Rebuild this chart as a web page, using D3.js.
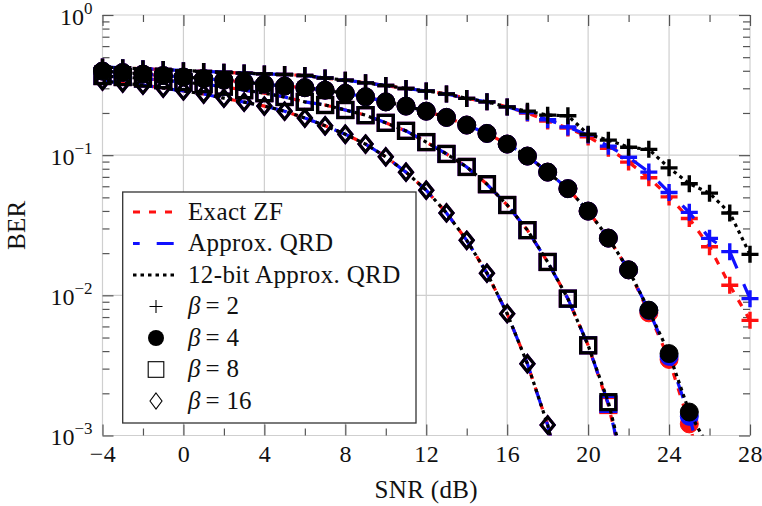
<!DOCTYPE html>
<html>
<head>
<meta charset="utf-8">
<script src="https://cdn.jsdelivr.net/npm/d3@7"></script>
<style>
  html, body { margin: 0; padding: 0; background: #fff; }
  svg { display: block; font-family: "Liberation Serif", "Times New Roman", serif; }
</style>
</head>
<body>
<svg id="chart" width="762" height="506"></svg>
<script>
// SNR grid (dB), one point per dB
const snrDb = [-4,-3,-2,-1,0,1,2,3,4,5,6,7,8,9,10,11,12,13,14,15,16,17,18,19,20,21,22,23,24,25,26,27,28];

// BER, beta = 2
const exactZF_b2   = [0.425,0.420,0.413,0.408,0.401,0.396,0.390,0.385,0.380,0.376,0.370,0.355,0.343,0.328,0.314,0.299,0.287,0.273,0.254,0.240,0.221,0.200,0.175,0.156,0.135,0.112,0.0892,0.0690,0.0504,0.0353,0.0222,0.0118,0.00663];
const approxQRD_b2 = [0.425,0.420,0.413,0.408,0.401,0.396,0.390,0.385,0.380,0.376,0.370,0.355,0.343,0.328,0.314,0.299,0.287,0.273,0.254,0.240,0.221,0.201,0.179,0.159,0.139,0.116,0.0967,0.0757,0.0542,0.0391,0.0255,0.0205,0.00947];
const bit12_b2     = [0.425,0.420,0.413,0.408,0.401,0.396,0.390,0.385,0.380,0.376,0.370,0.355,0.343,0.328,0.314,0.299,0.287,0.273,0.254,0.240,0.221,0.206,0.193,0.191,0.141,0.128,0.114,0.110,0.0812,0.0626,0.0536,0.0387,0.0196];

// BER, beta = 4 (SNR -4 .. 26)
const exactZF_b4   = [0.398,0.389,0.379,0.370,0.361,0.352,0.343,0.332,0.321,0.311,0.303,0.291,0.276,0.261,0.240,0.224,0.206,0.186,0.164,0.143,0.120,0.0985,0.0757,0.0577,0.0399,0.0256,0.0152,0.0075,0.00349,0.00121,0.00035];
const approxQRD_b4 = [0.398,0.389,0.379,0.370,0.361,0.352,0.343,0.332,0.321,0.311,0.303,0.291,0.276,0.261,0.240,0.224,0.206,0.186,0.164,0.143,0.120,0.0985,0.0757,0.0577,0.0399,0.0256,0.0152,0.0078,0.00367,0.00137,0.0004];
const bit12_b4     = [0.398,0.389,0.379,0.370,0.361,0.352,0.343,0.332,0.321,0.311,0.303,0.291,0.276,0.261,0.240,0.224,0.206,0.186,0.164,0.143,0.120,0.0985,0.0757,0.0577,0.0399,0.0256,0.0152,0.00784,0.00384,0.00147,0.0008];

// BER, beta = 8 (SNR -4 .. 22)
const exactZF_b8   = [0.367,0.361,0.352,0.343,0.332,0.321,0.308,0.291,0.277,0.260,0.240,0.228,0.210,0.193,0.170,0.149,0.124,0.102,0.0824,0.0621,0.0441,0.0292,0.0173,0.00947,0.0044,0.00165,0.0004];
const approxQRD_b8 = [0.367,0.361,0.352,0.343,0.332,0.321,0.308,0.291,0.277,0.260,0.240,0.228,0.210,0.193,0.170,0.149,0.124,0.102,0.0824,0.0621,0.0441,0.0292,0.0173,0.00947,0.0044,0.00168,0.0004];
const bit12_b8     = [0.367,0.361,0.352,0.343,0.332,0.321,0.308,0.291,0.277,0.260,0.240,0.228,0.210,0.193,0.170,0.149,0.124,0.102,0.0824,0.0621,0.0441,0.0292,0.0173,0.00947,0.0044,0.00173,0.00045];

// BER, beta = 16 (SNR -4 .. 19)
const exactZF_b16   = [0.338,0.327,0.316,0.301,0.287,0.273,0.255,0.239,0.224,0.206,0.184,0.162,0.141,0.120,0.0973,0.0756,0.0562,0.0387,0.0247,0.0144,0.0074,0.00325,0.00119,0.0003];
const approxQRD_b16 = [0.338,0.327,0.316,0.301,0.287,0.273,0.255,0.239,0.224,0.206,0.184,0.162,0.141,0.120,0.0973,0.0756,0.0562,0.0387,0.0247,0.0144,0.0074,0.00325,0.00119,0.0003];
const bit12_b16     = [0.338,0.327,0.316,0.301,0.287,0.273,0.255,0.239,0.224,0.206,0.184,0.162,0.141,0.120,0.0973,0.0756,0.0562,0.0387,0.0247,0.0144,0.0074,0.00325,0.00119,0.0003];

// Axis ticks
const xMajorTicks = [-4,0,4,8,12,16,20,24,28];
const xMinorTicks = [-2,2,6,10,14,18,22,26];
const yMajorTicks = [1e-3,1e-2,1e-1,1];
const yExponents  = ["−3","−2","−1","0"];

// Legend
const schemeNames = ["Exact ZF","Approx. QRD","12-bit Approx. QRD"];
const betaValues  = [2,4,8,16];

// ---------------------------------------------------------------
const svg = d3.select("#chart");
const L = 102.5, R = 750, T = 15, B = 435.5;
const FONT = 25;
const SPACING = 0.35;

const x = d3.scaleLinear().domain([-4, 28]).range([L, R]);
const y = d3.scaleLog().domain([1e-3, 1]).range([B, T]);

const yMinorTicks = [];
[1e-3,1e-2,1e-1].forEach(d => { for (let k = 2; k <= 9; k++) yMinorTicks.push(d * k); });

// grid
const grid = svg.append("g").attr("stroke", "#cfcfcf").attr("stroke-width", 1.2);
xMajorTicks.forEach(v => grid.append("line").attr("x1", x(v)).attr("x2", x(v)).attr("y1", T).attr("y2", B));
yMajorTicks.forEach(v => grid.append("line").attr("x1", L).attr("x2", R).attr("y1", y(v)).attr("y2", y(v)));

// ticks on all four sides, pointing inward
function styleTicks(g) {
  g.select(".domain").remove();
  g.selectAll(".tick line").attr("stroke", "#555").attr("stroke-width", 1.2);
}
const major = 11, minor = 7;
svg.append("g").attr("transform", `translate(0,${B})`)
  .call(d3.axisBottom(x).tickValues(xMinorTicks).tickSizeInner(-minor).tickSizeOuter(0).tickFormat(""))
  .call(styleTicks);
svg.append("g").attr("transform", `translate(0,${T})`)
  .call(d3.axisTop(x).tickValues(xMinorTicks).tickSizeInner(-minor).tickSizeOuter(0).tickFormat(""))
  .call(styleTicks);
svg.append("g").attr("transform", `translate(0,${T})`)
  .call(d3.axisTop(x).tickValues(xMajorTicks).tickSizeInner(-major).tickSizeOuter(0).tickFormat(""))
  .call(styleTicks);
svg.append("g").attr("transform", `translate(${L},0)`)
  .call(d3.axisLeft(y).tickValues(yMinorTicks).tickSizeInner(-minor).tickSizeOuter(0).tickFormat(""))
  .call(styleTicks);
svg.append("g").attr("transform", `translate(${R},0)`)
  .call(d3.axisRight(y).tickValues(yMinorTicks).tickSizeInner(-minor).tickSizeOuter(0).tickFormat(""))
  .call(styleTicks);
svg.append("g").attr("transform", `translate(${R},0)`)
  .call(d3.axisRight(y).tickValues(yMajorTicks).tickSizeInner(-major).tickSizeOuter(0).tickFormat(""))
  .call(styleTicks);

// bottom axis with labels
const xAxisG = svg.append("g").attr("transform", `translate(0,${B})`)
  .call(d3.axisBottom(x).tickValues(xMajorTicks).tickSizeInner(-major).tickSizeOuter(0)
    .tickFormat(d => d < 0 ? "−" + Math.abs(d) : String(d)))
  .call(styleTicks);
xAxisG.selectAll(".tick text")
  .attr("y", 26.5).attr("dy", null)
  .attr("font-size", 24).attr("letter-spacing", 0.5)
  .attr("font-family", "Liberation Serif, serif").attr("fill", "#111");

// left axis with 10^k labels
const yAxisG = svg.append("g").attr("transform", `translate(${L},0)`)
  .call(d3.axisLeft(y).tickValues(yMajorTicks).tickSizeInner(-major).tickSizeOuter(0).tickFormat(""))
  .call(styleTicks);
yAxisG.selectAll(".tick").each(function(d, i) {
  const t = d3.select(this).append("text")
    .attr("x", -10).attr("y", 9).attr("text-anchor", "end")
    .attr("font-size", 24).attr("font-family", "Liberation Serif, serif").attr("fill", "#111");
  t.append("tspan").text("10");
  t.append("tspan").attr("dy", -11).attr("font-size", 17).text(yExponents[i]);
});

// axis titles
svg.append("text").attr("x", (L + R) / 2).attr("y", 498).attr("text-anchor", "middle")
  .attr("font-size", FONT).attr("letter-spacing", SPACING).attr("fill", "#111").text("SNR (dB)");
svg.append("text").attr("transform", `translate(25,${(T + B) / 2}) rotate(-90)`)
  .attr("text-anchor", "middle").attr("font-size", FONT).attr("letter-spacing", SPACING)
  .attr("fill", "#111").text("BER");

// ---------------------------------------------------------------
// curves
svg.append("clipPath").attr("id", "plotClip")
  .append("rect").attr("x", L).attr("y", T).attr("width", R - L).attr("height", B - T);

const schemes = [
  { color: "#ff1010", dash: "7,9",   data: [exactZF_b2, exactZF_b4, exactZF_b8, exactZF_b16] },
  { color: "#1010ff", dash: "17,17", data: [approxQRD_b2, approxQRD_b4, approxQRD_b8, approxQRD_b16] },
  { color: "#000000", dash: "3.5,4", data: [bit12_b2, bit12_b4, bit12_b8, bit12_b16] }
];
const markerKinds = ["plus", "circle", "square", "diamond"];

function drawMarker(g, kind, cx, cy, color, big) {
  if (kind === "plus") {
    const h = big ? 8.5 : 6.5;
    g.append("path").attr("d", `M${cx - h},${cy}H${cx + h}M${cx},${cy - h}V${cy + h}`)
      .attr("stroke", color).attr("stroke-width", big ? 3.4 : 1.1).attr("fill", "none");
  } else if (kind === "circle") {
    g.append("circle").attr("cx", cx).attr("cy", cy).attr("r", big ? 9 : 8)
      .attr("fill", color).attr("stroke", color).attr("stroke-width", big ? 1 : 0);
  } else if (kind === "square") {
    const h = big ? 7.5 : 7.8;
    g.append("rect").attr("x", cx - h).attr("y", cy - h).attr("width", 2 * h).attr("height", 2 * h)
      .attr("fill", "none").attr("stroke", color).attr("stroke-width", big ? 3.2 : 1.1);
  } else {
    const w = big ? 6.5 : 6, h = 8;
    g.append("path").attr("d", `M${cx},${cy - h}L${cx + w},${cy}L${cx},${cy + h}L${cx - w},${cy}Z`)
      .attr("fill", "none").attr("stroke", color).attr("stroke-width", big ? 3 : 1.1)
      .attr("stroke-linejoin", "miter");
  }
}

const line = d3.line().x((d, i) => x(snrDb[i])).y(d => y(d));

schemes.forEach(s => {
  s.data.forEach((vals, k) => {
    const g = svg.append("g");
    g.append("path").datum(vals).attr("d", line)
      .attr("clip-path", "url(#plotClip)")
      .attr("fill", "none").attr("stroke", s.color).attr("stroke-width", 3.2)
      .attr("stroke-dasharray", s.dash).attr("stroke-linecap", "butt");
    vals.forEach((v, i) => {
      if (v >= 1e-3) drawMarker(g, markerKinds[k], x(snrDb[i]), y(v), s.color, true);
    });
  });
});

// ---------------------------------------------------------------
// legend
const lg = svg.append("g");
lg.append("rect").attr("x", 122.7).attr("y", 192).attr("width", 293.3).attr("height", 231)
  .attr("fill", "#fff").attr("stroke", "#333").attr("stroke-width", 1.3);
const rowBase = i => 219.5 + i * 31.5;
const dashOffsets = [0, 10.3, 0];
schemes.forEach((s, i) => {
  const yy = rowBase(i) - 7.5;
  lg.append("line").attr("x1", 133).attr("x2", 178).attr("y1", yy).attr("y2", yy)
    .attr("stroke", s.color).attr("stroke-width", 3.2)
    .attr("stroke-dasharray", s.dash).attr("stroke-dashoffset", dashOffsets[i]);
  lg.append("text").attr("x", 188).attr("y", rowBase(i)).attr("font-size", FONT)
    .attr("letter-spacing", SPACING).attr("fill", "#111").text(schemeNames[i]);
});
betaValues.forEach((b, k) => {
  const i = k + 3;
  drawMarker(lg, markerKinds[k], 156, rowBase(i) - 7.5, "#000", false);
  const t = lg.append("text").attr("x", 188).attr("y", rowBase(i)).attr("font-size", FONT)
    .attr("fill", "#111");
  t.append("tspan").attr("font-style", "italic").text("β");
  t.append("tspan").attr("dx", 5).text("=");
  t.append("tspan").attr("dx", 7).text(String(b));
});
</script>
</body>
</html>
